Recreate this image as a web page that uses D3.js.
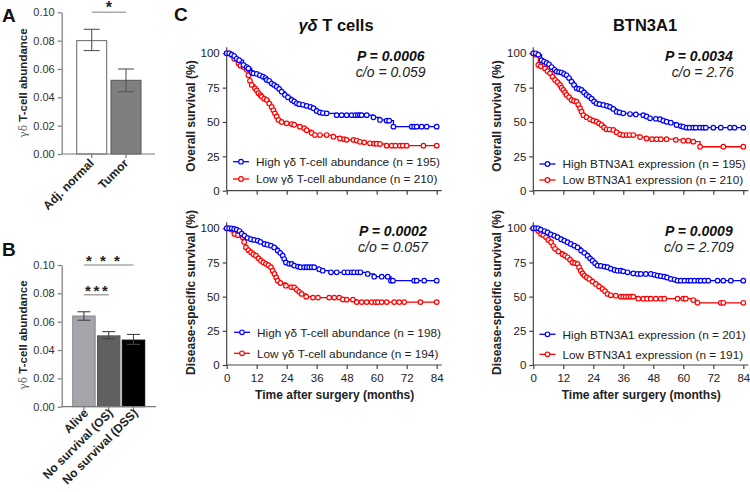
<!DOCTYPE html>
<html><head><meta charset="utf-8">
<script src="https://cdn.jsdelivr.net/npm/d3@7"></script>
<style>
body{margin:0;background:#fff;}
svg{display:block;font-family:Arial,"Liberation Sans",sans-serif;}
</style></head><body>
<svg id="c" width="750" height="492"></svg>
<script>
// ---------- data ----------
const aCategories = ["Adj. normal", "Tumor"];
const aMeans = [0.080, 0.052];
const aErrLow = [0.073, 0.044];
const aErrHigh = [0.088, 0.060];
const bCategories = ["Alive", "No survival (OS)", "No survival (DSS)"];
const bMeans = [0.064, 0.050, 0.047];
const bErrLow = [0.061, 0.048, 0.044];
const bErrHigh = [0.067, 0.053, 0.051];
const barTicks = [0, 0.02, 0.04, 0.06, 0.08, 0.10];
const kmYTicks = [0, 25, 50, 75, 100];
const kmXTicks = [0, 12, 24, 36, 48, 60, 72, 84];

const osGdHigh = [[0,100],[1,100],[2,99],[3,98],[4,96],[5,95],[6.7,91.5],[8,90],[8.7,89],[10,86],[10.7,85.4],[12,85],[13.3,84],[14.5,83],[15.5,82],[16,80.6],[17,80],[18,78],[19,77],[20,75.7],[21,74],[22,72],[23.3,69.7],[24.5,68],[26,66],[27,65],[28,63.6],[29,63],[30.5,62.5],[32,61.7],[33.5,61],[34.7,60],[36,58],[37.3,57],[38.5,56.5],[40,56.3],[44,55],[46,55],[48,55],[50,55],[51.5,55],[52.5,55],[53.3,55],[54,55],[56,55],[58.7,53.4],[61.3,51.5],[64,51],[65,51],[66.7,46.6],[74,46.6],[75,46.6],[76,46.6],[78,46.6],[80,46.6],[84,46.6]];
const osGdLow = [[0,100],[1,100],[2,99],[3,96],[4.7,92.7],[5.5,91],[6.7,90],[8,88],[8.7,84],[9.3,80],[10,77],[11.3,74.5],[12,73],[12.7,71],[13.5,69.5],[14,68.5],[15,67],[16,66],[17,63.5],[18,61],[18.7,58.5],[19.3,56.3],[20,54],[20.7,51.5],[22,50],[24,49],[26,48.5],[27,48],[29.3,46.6],[31,45.5],[32,44],[34,42],[35.3,40.5],[37.3,40.5],[40,40.5],[42.7,39.3],[45.3,38],[47,37.5],[48,37],[50.7,37],[52,36.5],[53.3,35.6],[55,35.2],[57.3,34.5],[59,34.2],[60,34.2],[61.3,34],[64,32.8],[66,32.8],[67.5,32.8],[69.3,32.8],[70.5,32.8],[72,32.8],[78.7,32.8],[84,32.8]];
const osBtnHigh = [[0,100],[1,100],[2,99],[3.3,95],[4.3,94],[5.3,93],[6.3,92],[7.3,90],[8.5,88],[9.3,86.7],[10.3,86.3],[11.3,86],[12.3,85],[13.3,84],[14.3,82],[15.3,79.4],[16.3,77],[17.3,74.5],[18.3,74],[19.3,73.3],[20.3,71.5],[21.3,69.7],[22.3,68.5],[23.3,67],[24.3,65],[25.3,63.6],[26.5,63],[28,62.4],[29.5,61.7],[30.7,61],[32,59.5],[33.3,57.5],[34.5,57],[36,56.3],[38.7,55.8],[41,55.5],[44,55],[45.3,54],[46.7,52.7],[49,52.3],[50.7,52],[52,51],[53.3,50.2],[55,49.5],[57.3,47.8],[59,47],[60,46.5],[61.3,45.9],[62.5,45.9],[64,45.9],[65,45.9],[66.7,45.9],[68,45.9],[69,45.9],[72,45.9],[75,45.9],[78.7,45.9],[80.5,45.9],[84,45.9]];
const osBtnLow = [[0,100],[1,99],[2,91.5],[3,90.5],[4.7,89],[5.7,87],[6.7,85.4],[7.7,83],[8.7,80.6],[9.7,79],[10.7,77],[11.3,75],[12,73.3],[12.7,71.5],[13.3,69.7],[14.3,68],[15.3,66],[16.3,65.3],[17.3,64.8],[18,62.5],[18.7,60],[19.3,57.5],[20,55],[21.3,53.5],[22.7,52],[24,51],[25.3,50.2],[26.3,49],[27.3,47.8],[28.3,46],[29.3,44.7],[30.5,44.5],[32,44.2],[33.3,42.5],[34.7,41],[36,40.5],[37.3,40.5],[38.5,40.5],[40,40.5],[42.7,39],[45.3,38],[47.5,37.5],[49.3,37.5],[51,37.5],[53.3,37.5],[57,37],[60,36.4],[62,36.4],[64,35.7],[66.7,32],[76,32],[84,32]];
const dssGdHigh = [[0,100],[1,100],[2,100],[3,99.5],[4,99],[5.1,98],[6,96],[7.1,94.6],[8.3,93],[9.7,92],[11,91.5],[12.4,91],[13.5,90],[15.1,88.5],[16.3,88],[17.7,87.3],[19,86],[20.4,83.7],[21.4,82],[22.4,80],[23,77.5],[23.7,75],[25,74],[26,74],[27,72.7],[28.5,72],[29.5,71.5],[31,71.5],[32,71.5],[33,71.5],[34,71.5],[35,71.5],[37,70],[38.4,69],[41.7,67.8],[44,67.8],[47,67.8],[48.5,67.8],[50,67.8],[51,67.8],[52.4,67.8],[53.5,67.8],[56.4,66.6],[59,64.6],[62,64.6],[64.4,64.6],[65.7,61.7],[66.5,61.7],[75,61.7],[76,61.7],[79,61.7],[84,61.7]];
const dssGdLow = [[0,100],[1,100],[2,99],[3.1,95.9],[4.5,95],[6.4,93.4],[7,90],[7.7,86],[8.7,84],[9.7,82.4],[10.7,81],[11.7,80],[12.7,78],[13.7,76.3],[14.7,75],[15.7,74],[16.7,73],[17.7,71.5],[18.4,69],[19.1,66.6],[19.8,64],[20.4,61.7],[21.5,60],[23.7,58],[25.8,57],[27,56.8],[28,55],[29,53.5],[30,52],[31.8,50],[34.5,49.3],[36.5,49.3],[41,49.3],[43,49.3],[45,49.3],[46.5,48],[48,47.8],[50.5,47.8],[52,46],[54,46],[56,46],[58,46],[59.5,46],[60.5,46],[62,46],[64,46],[67,46],[69,46],[71,46],[77.5,46],[84,46]];
const dssBtnHigh = [[0,100],[1,100],[2,100],[3,99],[4.5,98],[5.7,97],[7,95.5],[8.4,94.6],[9.7,93.5],[11.1,92],[12.4,91],[13.7,89.8],[15,88.5],[16.4,87.3],[17.7,86],[19.1,83.7],[20.4,82],[21.7,80],[22.7,78],[23.7,76.3],[24.7,74.5],[25.7,72.7],[27,72.5],[28.5,72],[29.7,71.5],[31,70.5],[32.5,69.5],[33.7,69],[35,69],[36,68.5],[37.7,67.8],[40,67],[41.7,66.6],[43,66.6],[45,66.6],[47,66.6],[48.5,66],[49.7,65.4],[51,65],[52.4,64.6],[53.5,64],[55,63],[56.5,62.5],[57.7,61.7],[59,61.7],[60.5,61.7],[62,61.7],[63,61.7],[64.5,61.7],[66,61.7],[67,61.7],[68.5,61.7],[70,61.7],[73.7,61.7],[76,61.7],[79,61.7],[84,61.7]];
const dssBtnLow = [[0,100],[1,100],[2,98],[3.1,95.9],[4,95],[5.1,93.4],[6,91.5],[7.1,89.8],[8,87],[8.7,85],[10,83],[11.7,81],[12.7,80],[13.7,78.8],[14.7,77],[15.7,75],[16.7,74.5],[17.7,74],[18.3,71.5],[19,69],[19.7,67],[20.4,65.4],[21.4,64],[22.4,63],[23.7,61],[25,59.3],[26.3,57.5],[27.7,55.6],[28.7,54],[29.7,52],[31,51],[33,50.7],[35,50],[36,50],[37,50],[38,50],[39,50],[40,50],[42,48.5],[44,48.5],[45.5,48.5],[47,48.5],[49,48.5],[51,48.5],[52.4,48.5],[57.7,48.5],[60,48.5],[61,48.5],[64,47.5],[65.7,45.5],[75,45.5],[76,45.5],[84,45.5]];

// ---------- drawing ----------
const svg = d3.select("#c");
const BLUE = "#0000ff", RED = "#ff0000";

function panelLabel(t, x, y){
  svg.append("text").attr("x", x).attr("y", y).attr("font-size", 19).attr("font-weight", "bold").attr("fill", "#111").text(t);
}
panelLabel("A", 2, 22);
panelLabel("B", 2, 256);
panelLabel("C", 174, 21);

function barPanel(cfg){
  const g = svg.append("g");
  const x = d3.scaleBand().domain(cfg.cats).range([cfg.bx0, cfg.bx1]).paddingInner(cfg.pad).paddingOuter(0);
  const y = d3.scaleLinear().domain([0, 0.1]).range([cfg.y0, cfg.y1]);
  const ya = g.append("g").attr("transform", `translate(${cfg.ax},0)`)
    .call(d3.axisLeft(y).tickValues(barTicks).tickSize(4).tickSizeOuter(0).tickFormat(d3.format(".2f")));
  ya.selectAll("path,line").attr("stroke", "#7a7a7a").attr("stroke-width", 1.2);
  ya.selectAll("text").attr("font-size", 11).attr("fill", "#333").attr("font-family", "Arial, 'Liberation Sans', sans-serif");
  // bars
  g.selectAll("rect.bar").data(cfg.means).join("rect")
    .attr("x", (d, i) => x(cfg.cats[i])).attr("width", x.bandwidth())
    .attr("y", d => y(d)).attr("height", d => cfg.y0 - y(d))
    .attr("fill", (d, i) => cfg.fills[i]).attr("stroke", (d, i) => cfg.strokes[i]).attr("stroke-width", 1);
  // x axis
  g.append("line").attr("x1", cfg.ax).attr("x2", cfg.axEnd).attr("y1", cfg.y0).attr("y2", cfg.y0).attr("stroke", "#7a7a7a").attr("stroke-width", 1.2);
  cfg.cats.forEach((c, i) => {
    const cx = x(c) + x.bandwidth() / 2;
    g.append("line").attr("x1", cx).attr("x2", cx).attr("y1", cfg.y0).attr("y2", cfg.y0 + 4).attr("stroke", "#7a7a7a").attr("stroke-width", 1.2);
    // error bars
    const eg = g.append("g").attr("stroke", cfg.errColor).attr("stroke-width", 1.1);
    eg.append("line").attr("x1", cx).attr("x2", cx).attr("y1", y(cfg.lo[i])).attr("y2", y(cfg.hi[i]));
    [cfg.lo[i], cfg.hi[i]].forEach(v => eg.append("line").attr("x1", cx - cfg.cap / 2).attr("x2", cx + cfg.cap / 2).attr("y1", y(v)).attr("y2", y(v)));
    g.append("text").attr("transform", `translate(${cx + cfg.lblDx},${cfg.y0 + cfg.lblDy}) rotate(-45)`)
      .attr("text-anchor", "end").attr("font-size", cfg.lblSize).attr("font-weight", "bold").attr("fill", "#222").text(c);
  });
  // y label
  const yl = g.append("text").attr("transform", `translate(27,${cfg.ylY}) rotate(-90)`).attr("text-anchor", "middle").attr("font-size", 11.5);
  yl.append("tspan").attr("fill", "#666").attr("font-family", "'DejaVu Serif', serif").attr("font-size", 10.5).text("γδ ");
  yl.append("tspan").attr("font-weight", "bold").attr("fill", "#222").text("T-cell abundance");
  return {x, y, g};
}

const A = barPanel({cats: aCategories, means: aMeans, lo: aErrLow, hi: aErrHigh, bx0: 76.7, bx1: 141, pad: 0.125,
  y0: 154, y1: 12.3, ax: 61.7, axEnd: 155, fills: ["#ffffff", "#7f7f7f"], strokes: ["#666", "#555"], errColor: "#555",
  cap: 16, lblDx: 3, lblDy: 10, lblSize: 12, ylY: 83});
// significance A
{
  const x1 = A.x(aCategories[0]) + A.x.bandwidth() / 2, x2 = A.x(aCategories[1]) + A.x.bandwidth() / 2;
  const yy = A.y(0.1);
  A.g.append("line").attr("x1", x1).attr("x2", x2).attr("y1", yy).attr("y2", yy).attr("stroke", "#aaa").attr("stroke-width", 1.6);
  A.g.append("text").attr("x", (x1 + x2) / 2).attr("y", yy + 0.5).attr("text-anchor", "middle").attr("font-size", 16).attr("font-weight", "bold").attr("fill", "#222").text("*");
}
const B = barPanel({cats: bCategories, means: bMeans, lo: bErrLow, hi: bErrHigh, bx0: 72.7, bx1: 144.7, pad: 0.093,
  y0: 406.7, y1: 265, ax: 61.7, axEnd: 156, fills: ["#a4a4aa", "#606060", "#000000"], strokes: ["#888", "#555", "#000"], errColor: "#444",
  cap: 13, lblDx: 5, lblDy: 7, lblSize: 12, ylY: 335});
{
  const c = bCategories.map(k => B.x(k) + B.x.bandwidth() / 2);
  const lines = [{x1: c[0], x2: c[2], v: 0.1, stars: [5, 19, 33]}, {x1: c[0], x2: c[1], v: 0.079, stars: [4, 12.5, 21]}];
  lines.forEach(L => {
    const yy = B.y(L.v);
    B.g.append("line").attr("x1", L.x1).attr("x2", L.x2).attr("y1", yy).attr("y2", yy).attr("stroke", "#aaa").attr("stroke-width", 1.6);
    L.stars.forEach(dx => B.g.append("text").attr("x", L.x1 + dx).attr("y", yy + 1).attr("text-anchor", "middle").attr("font-size", 15).attr("font-weight", "bold").attr("fill", "#222").text("*"));
  });
}

function kmPanel(cfg){
  const g = svg.append("g");
  const x = d3.scaleLinear().domain([0, 84]).range([cfg.x0, cfg.x1]);
  const y = d3.scaleLinear().domain([0, 100]).range([cfg.y0, cfg.y1]);
  const xa = g.append("g").attr("transform", `translate(0,${cfg.y0})`)
    .call(d3.axisBottom(x).tickValues(kmXTicks).tickSize(4).tickSizeOuter(0).tickFormat(cfg.xLabels ? d3.format("d") : () => ""));
  xa.select(".domain").attr("d", `M${cfg.x0},0H${cfg.x1 + 5}`);
  const ya = g.append("g").attr("transform", `translate(${cfg.x0},0)`)
    .call(d3.axisLeft(y).tickValues(kmYTicks).tickSize(4).tickSizeOuter(0));
  ya.select(".domain").attr("d", `M0,${cfg.y0}V${cfg.y1 - 6}`);
  [xa, ya].forEach(a => {
    a.selectAll("path,line").attr("stroke", "#444").attr("stroke-width", 1.2);
    a.selectAll("text").attr("font-size", 11.5).attr("fill", "#222").attr("font-family", "Arial, 'Liberation Sans', sans-serif");
  });
  xa.selectAll("text").attr("dy", "0.85em");
  const line = d3.line().x(d => x(d[0])).y(d => y(d[1])).curve(d3.curveStepAfter);
  [[cfg.low, RED], [cfg.high, BLUE]].forEach(([data, col]) => {
    g.append("path").attr("d", line(data)).attr("fill", "none").attr("stroke", col).attr("stroke-width", 1.3);
    g.selectAll(null).data(data).join("circle").attr("cx", d => x(d[0])).attr("cy", d => y(d[1])).attr("r", 2.3)
      .attr("fill", "#fff").attr("stroke", col).attr("stroke-width", 1.2);
  });
  // legend
  [[cfg.legHigh, BLUE, cfg.legY[0]], [cfg.legLow, RED, cfg.legY[1]]].forEach(([t, col, ly]) => {
    g.append("line").attr("x1", cfg.legX).attr("x2", cfg.legX + 16).attr("y1", ly).attr("y2", ly).attr("stroke", col).attr("stroke-width", 1.3);
    g.append("circle").attr("cx", cfg.legX + 8).attr("cy", ly).attr("r", 2.3).attr("fill", "#fff").attr("stroke", col).attr("stroke-width", 1.2);
    g.append("text").attr("x", cfg.legX + 23).attr("y", ly + 4.2).attr("font-size", 11.8).attr("fill", "#222").text(t);
  });
  // stats
  g.append("text").attr("x", cfg.statX).attr("y", cfg.y1 + 7.5).attr("text-anchor", "end").attr("font-size", 14)
    .attr("font-weight", "bold").attr("font-style", "italic").attr("fill", "#111").text(cfg.p);
  g.append("text").attr("x", cfg.statX + 1).attr("y", cfg.y1 + 23.5).attr("text-anchor", "end").attr("font-size", 14)
    .attr("font-style", "italic").attr("fill", "#222").text(cfg.co);
  // y label
  g.append("text").attr("transform", `translate(${cfg.x0 - 32},${cfg.ylY}) rotate(-90)`).attr("text-anchor", "middle")
    .attr("font-size", 12).attr("font-weight", "bold").attr("fill", "#222").text(cfg.ylabel);
  if (cfg.xLabels) {
    g.append("text").attr("x", (cfg.x0 + cfg.x1) / 2 + 3).attr("y", cfg.y0 + 33.5).attr("text-anchor", "middle")
      .attr("font-size", 12).attr("font-weight", "bold").attr("fill", "#222").text("Time after surgery (months)");
  }
}

kmPanel({x0: 226.7, x1: 436.7, y0: 190.7, y1: 53.3, high: osGdHigh, low: osGdLow, legX: 233, legY: [161.7, 179],
  legHigh: "High γδ T-cell abundance (n = 195)", legLow: "Low γδ T-cell abundance (n = 210)",
  p: "P = 0.0006", co: "c/o = 0.059", statX: 424.5, ylabel: "Overall survival (%)", ylY: 116, xLabels: false});
kmPanel({x0: 533.3, x1: 743.3, y0: 190.7, y1: 53.3, high: osBtnHigh, low: osBtnLow, legX: 539.5, legY: [164, 180],
  legHigh: "High BTN3A1 expression (n = 195)", legLow: "Low BTN3A1 expression (n = 210)",
  p: "P = 0.0034", co: "c/o = 2.76", statX: 732.7, ylabel: "Overall survival (%)", ylY: 116, xLabels: false});
kmPanel({x0: 226.7, x1: 436.7, y0: 365, y1: 228.3, high: dssGdHigh, low: dssGdLow, legX: 234, legY: [332.3, 353.3],
  legHigh: "High γδ T-cell abundance (n = 198)", legLow: "Low γδ T-cell abundance (n = 194)",
  p: "P = 0.0002", co: "c/o = 0.057", statX: 426.7, ylabel: "Disease-specific survival (%)", ylY: 292.5, xLabels: true});
kmPanel({x0: 533.3, x1: 743.3, y0: 365, y1: 228.3, high: dssBtnHigh, low: dssBtnLow, legX: 539.5, legY: [334.3, 354.3],
  legHigh: "High BTN3A1 expression (n = 201)", legLow: "Low BTN3A1 expression (n = 191)",
  p: "P = 0.0009", co: "c/o = 2.709", statX: 732.7, ylabel: "Disease-specific survival (%)", ylY: 292.5, xLabels: true});

// titles
{
  const t1 = svg.append("text").attr("x", 336).attr("y", 31).attr("text-anchor", "middle").attr("font-size", 16.5).attr("font-weight", "bold").attr("fill", "#111");
  t1.append("tspan").attr("font-style", "italic").text("γδ");
  t1.append("tspan").text(" T cells");
  svg.append("text").attr("x", 645).attr("y", 31).attr("text-anchor", "middle").attr("font-size", 16.5).attr("font-weight", "bold").attr("fill", "#111").text("BTN3A1");
}
</script>
</body></html>
